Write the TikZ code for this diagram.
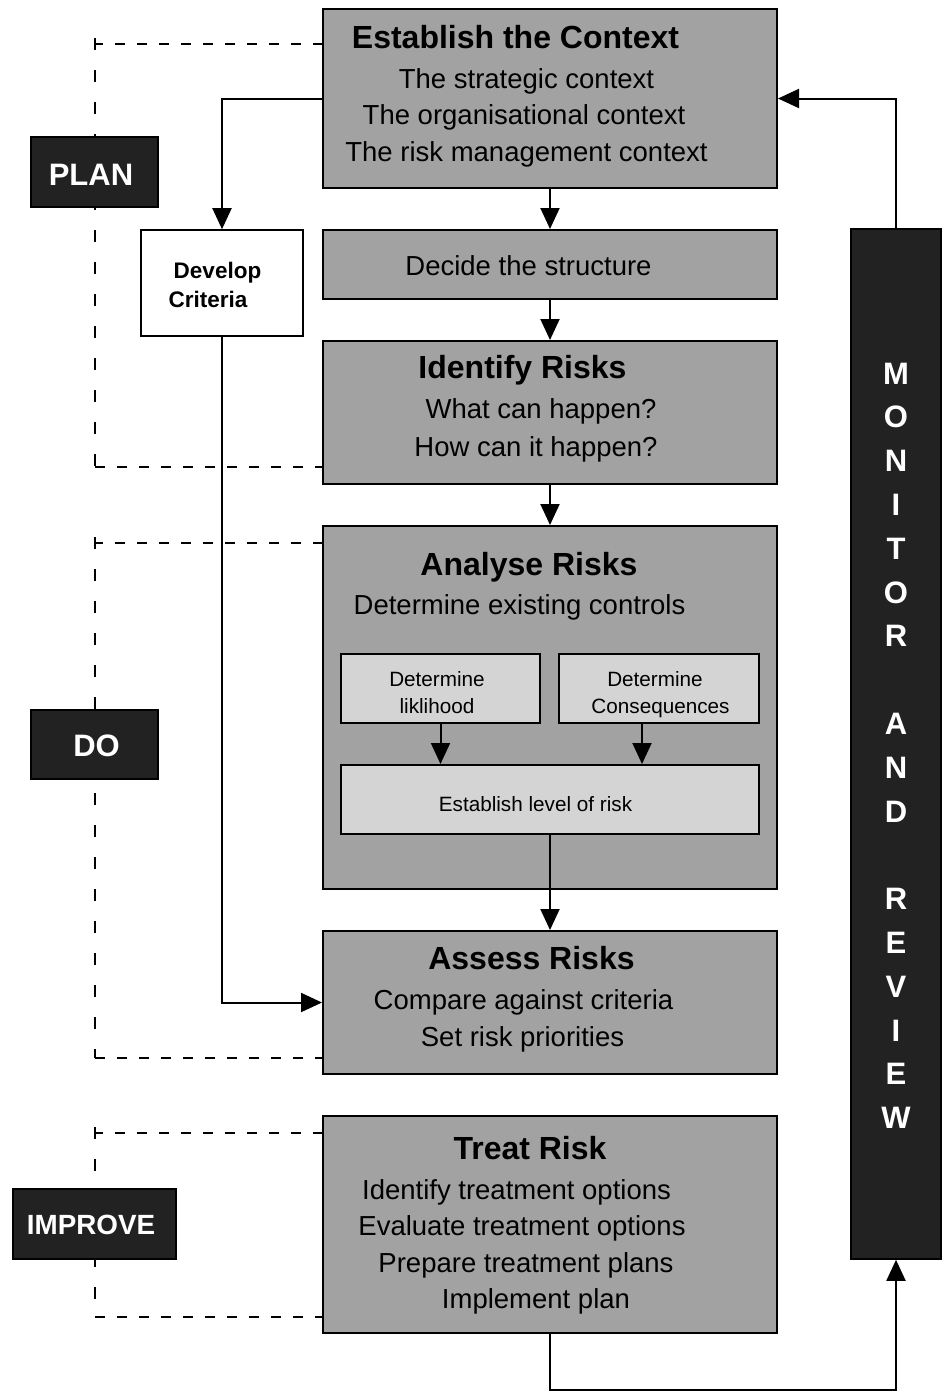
\documentclass[tikz,border=0pt]{standalone}
\usepackage{fontspec}
\setmainfont{Liberation Sans}
\usetikzlibrary{arrows.meta,calc}
\definecolor{boxgray}{HTML}{A2A2A2}
\definecolor{lightgray}{HTML}{D4D4D4}
\definecolor{darkbox}{HTML}{222222}
\tikzset{
  graybox/.style={draw=black,line width=2pt,fill=boxgray,inner sep=0pt},
  subbox/.style={draw=black,line width=2pt,fill=lightgray,inner sep=0pt},
  whitebox/.style={draw=black,line width=1.6pt,fill=white,inner sep=0pt},
  labbox/.style={draw=black,line width=1.6pt,fill=darkbox,inner sep=0pt},
  headtxt/.style={anchor=base,inner sep=0pt,font=\fontsize{32}{38}\selectfont\bfseries},
  bodytxt/.style={anchor=base,inner sep=0pt,font=\fontsize{27.5}{33}\selectfont},
  smalltxt/.style={anchor=base,inner sep=0pt,font=\fontsize{20.7}{25}\selectfont},
  devtxt/.style={anchor=base,inner sep=0pt,font=\fontsize{22.5}{27}\selectfont\bfseries},
  labtxt/.style={anchor=base,inner sep=0pt,text=white,font=\fontsize{31}{37}\selectfont\bfseries},
  montxt/.style={anchor=base,inner sep=0pt,text=white,font=\fontsize{31}{37}\selectfont\bfseries},
  arr/.style={line width=2pt,-{Triangle[width=19pt,length=21pt]}},
  conn/.style={line width=2pt},
  hdash/.style={line width=2pt,dash pattern=on 10pt off 12pt},
  vdash/.style={line width=2pt,dash pattern=on 12pt off 20pt},
}
\begin{document}
\begin{tikzpicture}[x=1pt,y=-1pt]
\useasboundingbox (0,0) rectangle (946,1392);

% dashed phase brackets (behind everything)
\coordinate (p1) at (323,44);  \coordinate (p2) at (95,44);
\coordinate (p3) at (95,467);  \coordinate (p4) at (323,467);
\coordinate (d1) at (323,543); \coordinate (d2) at (95,543);
\coordinate (d3) at (95,1058); \coordinate (d4) at (323,1058);
\coordinate (i1) at (323,1133);\coordinate (i2) at (95,1133);
\coordinate (i3) at (95,1317); \coordinate (i4) at (323,1317);
\draw[hdash] (p1) -- (p2); \draw[vdash] ([yshift=6pt]p2) -- (p3); \draw[hdash] (p3) -- (p4);
\draw[hdash] (d1) -- (d2); \draw[vdash] ([yshift=6pt]d2) -- (d3); \draw[hdash] (d3) -- (d4);
\draw[hdash] (i1) -- (i2); \draw[vdash] ([yshift=6pt]i2) -- (i3); \draw[hdash] (i3) -- (i4);

% main boxes
\node[graybox,minimum width=454pt,minimum height=179pt] (ctx) at (550,98.5) {};
\node[graybox,minimum width=454pt,minimum height=69pt]  (dec) at (550,264.5) {};
\node[graybox,minimum width=454pt,minimum height=143pt] (ide) at (550,412.5) {};
\node[graybox,minimum width=454pt,minimum height=363pt] (ana) at (550,707.5) {};
\node[subbox,minimum width=199pt,minimum height=69pt]  (lik) at (440.5,688.5) {};
\node[subbox,minimum width=200pt,minimum height=69pt]  (con) at (659,688.5) {};
\node[subbox,minimum width=418pt,minimum height=69pt]  (lvl) at (550,799.5) {};
\node[graybox,minimum width=454pt,minimum height=143pt] (ass) at (550,1002.5) {};
\node[graybox,minimum width=454pt,minimum height=217pt] (tre) at (550,1224.5) {};
\node[whitebox,minimum width=162pt,minimum height=106pt] (dev) at (222,283) {};
\node[labbox,minimum width=127pt,minimum height=70pt] (plan) at (94.5,172) {};
\node[labbox,minimum width=127pt,minimum height=69pt] (do) at (94.5,744.5) {};
\node[labbox,minimum width=163pt,minimum height=70pt] (imp) at (94.5,1224) {};
\node[labbox,minimum width=90pt,minimum height=1030pt] (mon) at (896,744) {};

% texts
\node[headtxt] (t1) at (515.5,48) {Establish the Context};
\node[bodytxt] (t1a) at (526.5,88) {The strategic context};
\node[bodytxt] (t1b) at (524,124) {The organisational context};
\node[bodytxt] (t1c) at (526.5,161) {The risk management context};
\node[bodytxt] (t2) at (528.5,275) {Decide the structure};
\node[headtxt] (t3) at (522.5,378) {Identify Risks};
\node[bodytxt] (t3a) at (541,418) {What can happen?};
\node[bodytxt] (t3b) at (536,456) {How can it happen?};
\node[headtxt] (t4) at (529,575) {Analyse Risks};
\node[bodytxt] (t4a) at (519.5,614) {Determine existing controls};
\node[smalltxt] (t5a) at (437,686) {Determine};
\node[smalltxt] (t5b) at (437,713) {liklihood};
\node[smalltxt] (t6a) at (655,686) {Determine};
\node[smalltxt] (t6b) at (660.5,713) {Consequences};
\node[smalltxt] (t7) at (535.5,811) {Establish level of risk};
\node[headtxt] (t8) at (531.5,969) {Assess Risks};
\node[bodytxt] (t8a) at (523.5,1009) {Compare against criteria};
\node[bodytxt] (t8b) at (522.5,1046) {Set risk priorities};
\node[headtxt] (t9) at (530,1159) {Treat Risk};
\node[bodytxt] (t9a) at (516.5,1199) {Identify treatment options};
\node[bodytxt] (t9b) at (522,1235) {Evaluate treatment options};
\node[bodytxt] (t9c) at (526,1272) {Prepare treatment plans};
\node[bodytxt] (t9d) at (536,1308) {Implement plan};
\node[devtxt] (dv1) at (217.5,278) {Develop};
\node[devtxt] (dv2) at (208,307) {Criteria};
\node[labtxt] (lp) at (91,185) {PLAN};
\node[labtxt] (ld) at (96.5,756) {DO};
\node[labtxt,font=\fontsize{27.8}{33}\selectfont\bfseries] (li) at (91,1234) {IMPROVE};
\foreach \l [count=\i] in {M,O,N,I,T,O,R,{},A,N,D,{},R,E,V,I,E,W}
  \node[montxt] (m\i) at (896,{384+43.8*(\i-1)}) {\l};

% connectors
\draw[arr] (ctx) -- (dec);
\draw[arr] (dec) -- (ide);
\draw[arr] (ide) -- (ana);
\draw[arr] (lik.south) -- (lik.south |- lvl.north);
\draw[arr] ([xshift=-17pt]con.south) -- ([xshift=-17pt]con.south |- lvl.north);
\draw[arr] (lvl.south) -- (ass.north);
\draw[arr] (ctx.west) -| (dev.north);
\draw[arr] (dev.south) |- (ass.west);
\draw[arr] (mon.north) |- (ctx.east);
\coordinate (bot) at (550,1390);
\draw[arr] (tre.south) -- (bot) -| (mon.south);
\end{tikzpicture}
\end{document}
